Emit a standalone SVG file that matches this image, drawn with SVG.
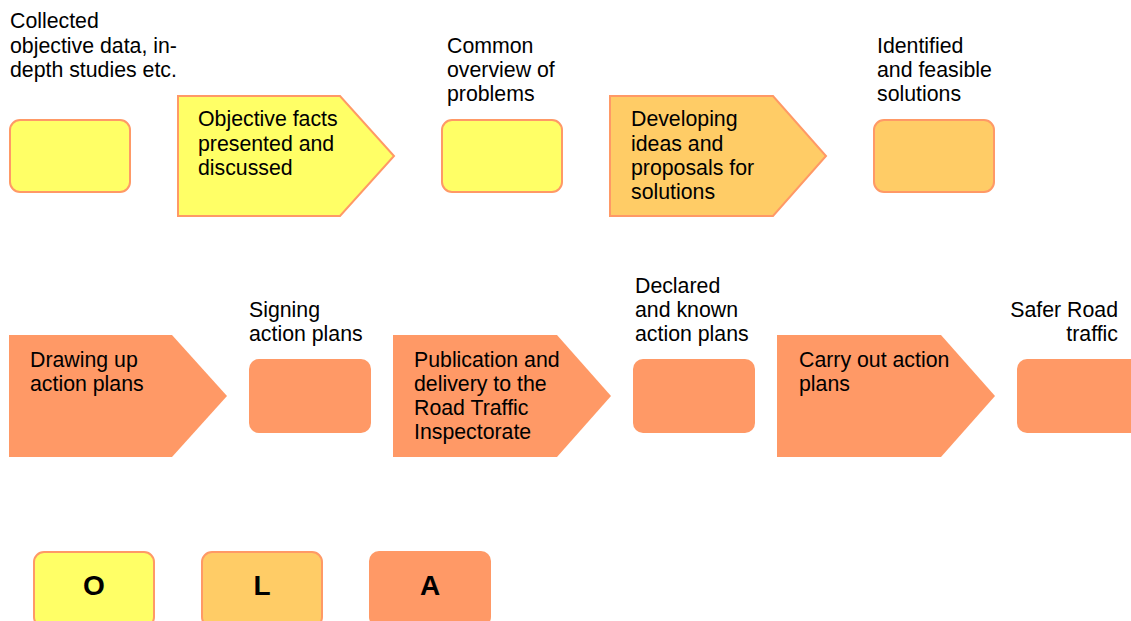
<svg xmlns="http://www.w3.org/2000/svg" width="1131" height="621" viewBox="0 0 1131 621">
<style>
text{font-family:"Liberation Sans",Arial,sans-serif;font-size:21.3px;fill:#000}
.o{fill:#FFFF66;stroke:#FF9966;stroke-width:2}
.l{fill:#FFCC66;stroke:#FF9966;stroke-width:2}
.a{fill:#FF9966;stroke:none}
.lg{font-weight:bold;font-size:28px;text-anchor:middle}
</style>
<rect width="1131" height="621" fill="#fff"/>
<g id="connectors"></g>
<g id="n-collected">
<text x="10" y="28">Collected</text><text x="10" y="53">objective data, in-</text><text x="10" y="77">depth studies etc.</text>
<rect class="o" x="10" y="120" width="120" height="72" rx="10"/>
</g>
<g id="n-objective-facts">
<polygon class="o" points="178,96 340,96 394,156 340,216 178,216"/>
<text x="198" y="126">Objective facts</text><text x="198" y="151">presented and</text><text x="198" y="175">discussed</text>
</g>
<g id="n-common-overview">
<text x="447" y="53">Common</text><text x="447" y="77">overview of</text><text x="447" y="101">problems</text>
<rect class="o" x="442" y="120" width="120" height="72" rx="10"/>
</g>
<g id="n-developing">
<polygon class="l" points="610,96 773,96 826,156 773,216 610,216"/>
<text x="631" y="126">Developing</text><text x="631" y="151">ideas and</text><text x="631" y="175">proposals for</text><text x="631" y="199">solutions</text>
</g>
<g id="n-identified">
<text x="877" y="53">Identified</text><text x="877" y="77">and feasible</text><text x="877" y="101">solutions</text>
<rect class="l" x="874" y="120" width="120" height="72" rx="10"/>
</g>
<g id="n-drawing-up">
<polygon class="a" points="9,335 172,335 227,396 172,457 9,457"/>
<text x="30" y="367">Drawing up</text><text x="30" y="391">action plans</text>
</g>
<g id="n-signing">
<text x="249" y="317">Signing</text><text x="249" y="341">action plans</text>
<rect class="a" x="249" y="359" width="122" height="74" rx="10"/>
</g>
<g id="n-publication">
<polygon class="a" points="393,335 557,335 611,396 557,457 393,457"/>
<text x="414" y="367">Publication and</text><text x="414" y="391">delivery to the</text><text x="414" y="415">Road Traffic</text><text x="414" y="439">Inspectorate</text>
</g>
<g id="n-declared">
<text x="635" y="293">Declared</text><text x="635" y="317">and known</text><text x="635" y="341">action plans</text>
<rect class="a" x="633" y="359" width="122" height="74" rx="10"/>
</g>
<g id="n-carry-out">
<polygon class="a" points="777,335 941,335 995,396 941,457 777,457"/>
<text x="799" y="367">Carry out action</text><text x="799" y="391">plans</text>
</g>
<g id="n-safer">
<text x="1118" y="317" text-anchor="end">Safer Road</text><text x="1118" y="341" text-anchor="end">traffic</text>
<rect class="a" x="1017" y="359" width="124" height="74" rx="10"/>
</g>
<g id="legend-o">
<rect class="o" x="34" y="552" width="120" height="75" rx="10"/>
<text class="lg" x="94" y="595">O</text>
</g>
<g id="legend-l">
<rect class="l" x="202" y="552" width="120" height="75" rx="10"/>
<text class="lg" x="262" y="595">L</text>
</g>
<g id="legend-a">
<rect class="a" x="369" y="551" width="122" height="76" rx="10"/>
<text class="lg" x="430" y="595">A</text>
</g>
</svg>
